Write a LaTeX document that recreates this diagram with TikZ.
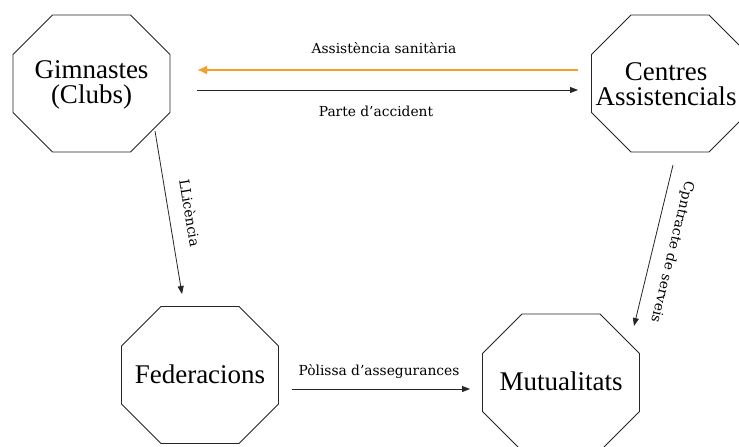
\documentclass[tikz,border=0pt]{standalone}
\usepackage{fontspec}
\setmainfont{Liberation Serif}
\newfontfamily\bigfont{Liberation Serif}
\newfontfamily\labfont{DejaVu Serif}
\usetikzlibrary{arrows.meta}
\definecolor{orangearrow}{RGB}{245,158,40}
\newcommand\octagonat[2]{\draw[octa,shift={(#1,#2)}] (-39,-68.5) -- (39,-68.5) -- (78.5,-29) -- (78.5,29) -- (39,68.5) -- (-39,68.5) -- (-78.5,29) -- (-78.5,-29) -- cycle;}
\begin{document}
\begin{tikzpicture}[x=1pt,y=-1pt,
  octa/.style={draw=black!85,line width=0.9pt},
  bigtext/.style={font=\bigfont\fontsize{27}{25}\selectfont,align=center,inner sep=0pt},
  lab/.style={font=\labfont\fontsize{13.8}{16}\selectfont,inner sep=0pt},
  conn/.style={draw=black!85,line width=0.8pt,-{Triangle[length=8pt,width=6pt]}},
  orangeconn/.style={draw=orangearrow,line width=2pt,-{Latex[length=10pt,width=9pt]}}]
\useasboundingbox (0,0) rectangle (739,447);
\fill[white] (0,0) rectangle (739,447);

% octagons
\octagonat{91.5}{83.5}
\octagonat{670}{83.5}
\octagonat{200}{375}
\octagonat{561}{382.5}

% node texts
\node[bigtext] (g) at (91.5,85) {Gimnastes\\(Clubs)};
\node[bigtext] (c) at (666,84) {Centres\\Assistencials};
\node[bigtext] (f) at (200,374) {Federacions};
\node[bigtext] (m) at (561,381) {Mutualitats};

% connector end points
\coordinate (o1) at (578,70);
\coordinate (o2) at (197,70);
\coordinate (p1) at (197,90);
\coordinate (p2) at (578,90);
\coordinate (q1) at (292,389);
\coordinate (q2) at (470,389);
\coordinate (r1) at (155,131);
\coordinate (r2) at (182,294);
\coordinate (s1) at (673,165);
\coordinate (s2) at (634,326);

\draw[orangeconn] (o1) -- (o2);
\draw[conn] (p1) -- (p2);
\draw[conn] (q1) -- (q2);
\draw[conn] (r1) -- (r2);
\draw[conn] (s1) -- (s2);

% labels
\node[lab,anchor=base] (la) at (384,53) {Assistència sanitària};
\node[lab,anchor=base] (lp) at (376,116) {Parte d’accident};
\node[lab,anchor=base] (lq) at (379,375) {Pòlissa d’assegurances};
\node[lab,rotate=-80.6] (ll) at (190,213) {LLicència};
\node[lab,rotate=-103.6] (lc) at (672,252) {Cpntracte de serveis};
\end{tikzpicture}
\end{document}
